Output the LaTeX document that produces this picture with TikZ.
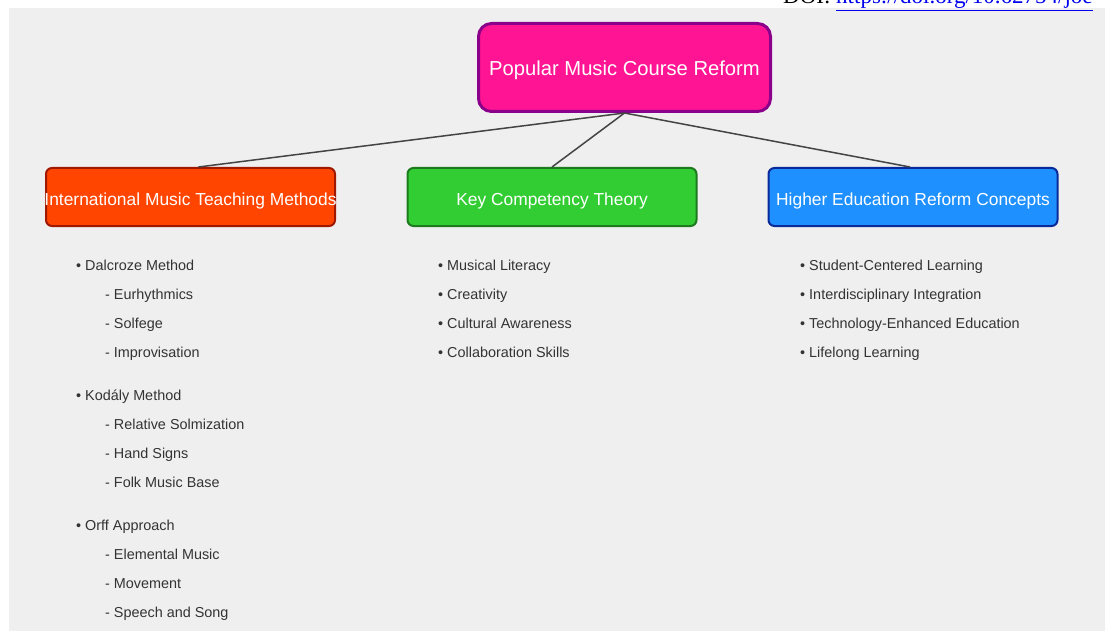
\documentclass[tikz,border=0pt]{standalone}
\usepackage{fontspec}
\setmainfont{Liberation Sans}
\newfontfamily\doifont{Liberation Serif}
\definecolor{bggray}{HTML}{EFEFEF}
\definecolor{linkblue}{HTML}{0000EE}
\definecolor{itemgray}{HTML}{333333}
\definecolor{linkgray}{HTML}{444444}
\definecolor{rootfill}{HTML}{FF1493}
\definecolor{rootdraw}{HTML}{8B008B}
\definecolor{leftfill}{HTML}{FF4500}
\definecolor{leftdraw}{HTML}{A01800}
\definecolor{midfill}{HTML}{32CD32}
\definecolor{middraw}{HTML}{1E7A1E}
\definecolor{rightfill}{HTML}{1E90FF}
\definecolor{rightdraw}{HTML}{0A2A9A}
\tikzset{
  catbox/.style={rectangle, rounded corners=6pt, minimum width=289pt, minimum height=58pt,
    line width=2pt, text=white, font=\fontsize{17.4}{20}\selectfont, inner sep=0pt,
    text height=16.4pt, text depth=0pt},
  rootbox/.style={rectangle, rounded corners=13pt, minimum width=292pt, minimum height=88pt,
    line width=3pt, fill=rootfill, draw=rootdraw, text=white, font=\fontsize{20.2}{23}\selectfont, inner sep=0pt,
    text height=15.4pt, text depth=0pt},
  listitem/.style={anchor=base west, inner sep=0pt, text=itemgray, font=\fontsize{14.4}{16}\selectfont},
  conn/.style={draw=linkgray, line width=1.5pt},
}
\newcommand{\boxtext}[1]{\makebox[0pt]{#1}}
\begin{document}
\begin{tikzpicture}[x=1pt,y=-1pt]
\useasboundingbox (0,0) rectangle (1105,631);
\fill[bggray] (9,8) rectangle (1105,631);
\begin{scope}
\clip (0,0) rectangle (1105,631);
\node[anchor=base west, inner sep=0pt, font=\doifont\fontsize{23}{25}\selectfont] (doi) at (783,4)
  {DOI: \textcolor{linkblue}{\underline{https://doi.org/10.62754/joe}}};
\end{scope}

\node[rootbox] (root) at (624.5,67.5) {\boxtext{Popular Music Course Reform}};
\node[catbox, fill=leftfill, draw=leftdraw] (imtm) at (190.5,197) {\boxtext{International Music Teaching Methods}};
\node[catbox, fill=midfill, draw=middraw] (kct) at (552,197) {\boxtext{Key Competency Theory}};
\node[catbox, fill=rightfill, draw=rightdraw] (herc) at (913,197) {\boxtext{Higher Education Reform Concepts}};

\draw[conn] (root.south) -- ([xshift=8pt]imtm.north);
\draw[conn] (root.south) -- (kct.north);
\draw[conn] (root.south) -- ([xshift=-3pt]herc.north);

% left column
\node[listitem] (l1) at (76,270) {• Dalcroze Method};
\node[listitem] (l1a) at (105,299) {- Eurhythmics};
\node[listitem] (l1b) at (105,328) {- Solfege};
\node[listitem] (l1c) at (105,357) {- Improvisation};
\node[listitem] (l2) at (76,400) {• Kodály Method};
\node[listitem] (l2a) at (105,429) {- Relative Solmization};
\node[listitem] (l2b) at (105,458) {- Hand Signs};
\node[listitem] (l2c) at (105,487) {- Folk Music Base};
\node[listitem] (l3) at (76,530) {• Orff Approach};
\node[listitem] (l3a) at (105,559) {- Elemental Music};
\node[listitem] (l3b) at (105,588) {- Movement};
\node[listitem] (l3c) at (105,617) {- Speech and Song};

% middle column
\node[listitem] (m1) at (438,270) {• Musical Literacy};
\node[listitem] (m2) at (438,299) {• Creativity};
\node[listitem] (m3) at (438,328) {• Cultural Awareness};
\node[listitem] (m4) at (438,357) {• Collaboration Skills};

% right column
\node[listitem] (r1) at (800,270) {• Student-Centered Learning};
\node[listitem] (r2) at (800,299) {• Interdisciplinary Integration};
\node[listitem] (r3) at (800,328) {• Technology-Enhanced Education};
\node[listitem] (r4) at (800,357) {• Lifelong Learning};
\end{tikzpicture}
\end{document}
